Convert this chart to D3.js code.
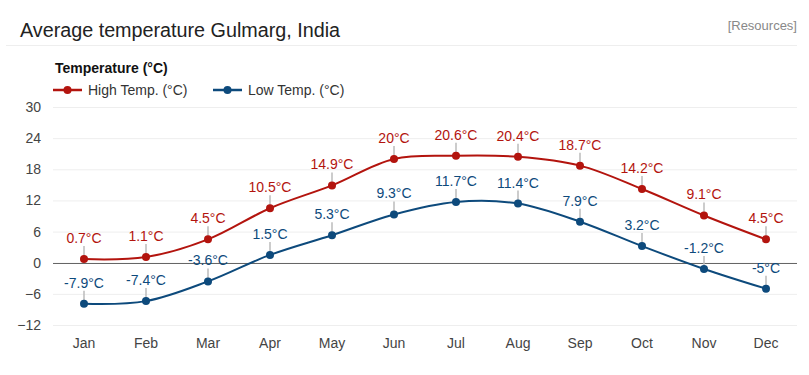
<!DOCTYPE html>
<html><head><meta charset="utf-8">
<script src="https://cdn.jsdelivr.net/npm/d3@7"></script>
<style>body{margin:0;background:#fff;font-family:"Liberation Sans",Arial,sans-serif;}</style>
</head><body>
<svg id="c" width="809" height="375"></svg>
<script>
const months = ["Jan","Feb","Mar","Apr","May","Jun","Jul","Aug","Sep","Oct","Nov","Dec"];
const highTemp = [0.7,1.1,4.5,10.5,14.9,20,20.6,20.4,18.7,14.2,9.1,4.5];
const lowTemp = [-7.9,-7.4,-3.6,1.5,5.3,9.3,11.7,11.4,7.9,3.2,-1.2,-5];
const yTicks = [30,24,18,12,6,0,-6,-12];
const seriesNames = ["High Temp. (°C)","Low Temp. (°C)"];
const seriesColors = ["#b3140e","#0d4a7c"];

const svg = d3.select("#c");
const font = "'Liberation Sans', Arial, sans-serif";
const L = 53, R = 797, T = 107, B = 325;
const x = d3.scaleBand().domain(months).range([L,R]);
const y = d3.scaleLinear().domain([-12,30]).range([B,T]);

// title
svg.append("text").attr("x",20).attr("y",37).attr("font-size",20).attr("fill","#222").attr("font-family",font).attr("textLength",320).attr("lengthAdjust","spacingAndGlyphs").text("Average temperature Gulmarg, India");
svg.append("text").attr("x",797).attr("y",30).attr("text-anchor","end").attr("font-size",13).attr("fill","#888").attr("font-family",font).text("[Resources]");
svg.append("line").attr("x1",6).attr("x2",797).attr("y1",45.5).attr("y2",45.5).attr("stroke","#eee");

// legend
svg.append("text").attr("x",55).attr("y",73).attr("font-size",14).attr("font-weight","bold").attr("fill","#111").attr("font-family",font).text("Temperature (°C)");
const legX = [53,213];
seriesNames.forEach((n,i)=>{
  const g = svg.append("g").attr("transform",`translate(${legX[i]},90)`);
  g.append("line").attr("x1",0).attr("x2",29).attr("stroke",seriesColors[i]).attr("stroke-width",2.5);
  g.append("circle").attr("cx",14.5).attr("r",4).attr("fill",seriesColors[i]);
  g.append("text").attr("x",35).attr("y",5).attr("font-size",14).attr("fill","#333").attr("font-family",font).text(n);
});

// grid
const yAxis = d3.axisLeft(y).tickValues(yTicks).tickSize(-(R-L)).tickFormat(d3.format("d"));
const gy = svg.append("g").attr("transform",`translate(${L},0)`).call(yAxis);
gy.select(".domain").remove();
gy.selectAll(".tick line").attr("stroke","#eee");
gy.selectAll(".tick text").attr("x",-12).attr("font-size",14).attr("fill","#444").attr("font-family",font);
svg.append("line").attr("x1",L).attr("x2",R).attr("y1",Math.round(y(0))+0.5).attr("y2",Math.round(y(0))+0.5).attr("stroke","#666").attr("stroke-width",1);

const xAxis = d3.axisBottom(x).tickSize(0);
const gx = svg.append("g").attr("transform",`translate(0,${B})`).call(xAxis);
gx.select(".domain").remove();
gx.selectAll(".tick text").attr("dy",0).attr("y",23).attr("font-size",14).attr("fill","#444").attr("font-family",font);

const cx = m => x(m)+x.bandwidth()/2;
const line = d3.line().x((d,i)=>cx(months[i])).y(d=>y(d)).curve(d3.curveCatmullRom.alpha(0.5));
[highTemp,lowTemp].forEach((data,si)=>{
  const col = seriesColors[si];
  svg.append("path").attr("d",line(data)).attr("fill","none").attr("stroke",col).attr("stroke-width",2);
  const g = svg.append("g");
  data.forEach((v,i)=>{
    const px = cx(months[i]), py = y(v);
    g.append("line").attr("x1",px).attr("x2",px).attr("y1",py-3).attr("y2",py-13).attr("stroke","#bbb").attr("stroke-width",1.5);
  });
  data.forEach((v,i)=>{
    const px = cx(months[i]), py = y(v);
    g.append("circle").attr("cx",px).attr("cy",py).attr("r",4).attr("fill",col);
    g.append("text").attr("x",px).attr("y",py-16).attr("text-anchor","middle").attr("font-size",14).attr("fill",col).attr("font-family",font).text(v+"°C");
  });
});
</script>
</body></html>
